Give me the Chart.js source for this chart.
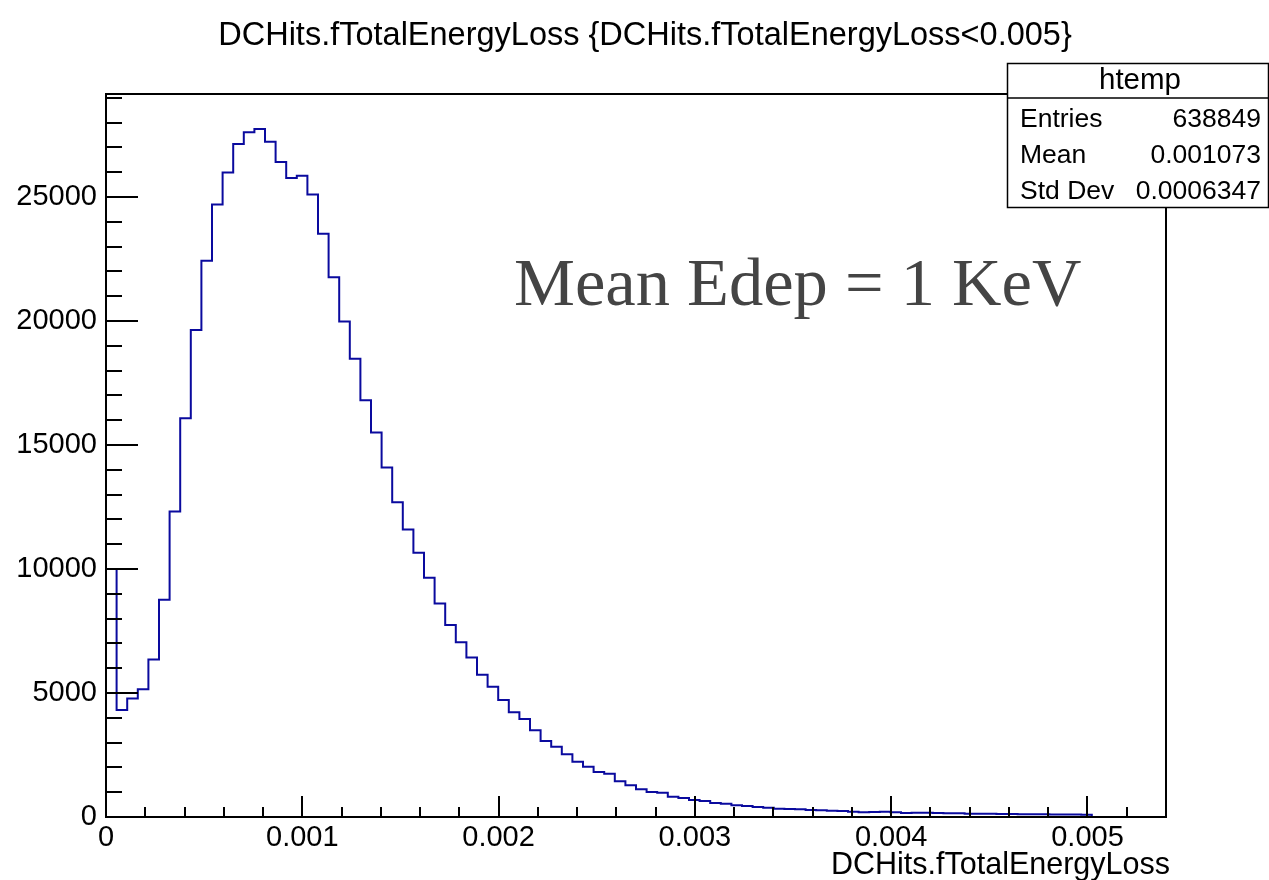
<!DOCTYPE html>
<html>
<head>
<meta charset="utf-8">
<title>DCHits.fTotalEnergyLoss</title>
<script src="https://cdn.jsdelivr.net/npm/chart.js@4.4.1/dist/chart.umd.min.js"></script>
<style>
  html, body { margin: 0; padding: 0; background: #fff; }
  canvas { display: block; }
</style>
</head>
<body>
<canvas id="histChart" width="1269" height="880"></canvas>
<script>
// Histogram definition (100 bins, 0 .. 0.0054)
const nBins = 100;
const xMin = 0;
const xMax = 0.0054;
const yMax = 29150;

// Bin contents
const binCounts = [
    10000, 4315, 4778, 5150, 6352, 8760, 12316, 16075, 19630, 22430,
    24690, 25980, 27130, 27610, 27740, 27224, 26410, 25760, 25850, 25095,
    23520, 21760, 19980, 18480, 16800, 15500, 14090, 12690, 11590, 10650,
    9650, 8610, 7740, 7050, 6435, 5735, 5250, 4715, 4220, 3950,
    3494, 3063, 2834, 2525, 2230, 2027, 1813, 1746, 1437, 1276,
    1115, 1007, 980, 819, 765, 685, 645, 564, 537, 470,
    443, 403, 376, 336, 322, 309, 282, 269, 255, 242,
    215, 188, 202, 215, 188, 161, 175, 175, 161, 148,
    148, 134, 130, 128, 122, 118, 115, 110, 108, 104,
    100, 96, 92, 0, 0, 0, 0, 0, 0, 0
];

// Axis ticks
const xTicks = [0, 0.001, 0.002, 0.003, 0.004, 0.005];
const yTicks = [0, 5000, 10000, 15000, 20000, 25000];
const xMinorStep = 0.0002;
const yMinorStep = 1000;

// Stats box
const statsTitle = 'htemp';
const statsRows = [
    ['Entries', '638849'],
    ['Mean', '0.001073'],
    ['Std Dev', '0.0006347']
];

const titleText = 'DCHits.fTotalEnergyLoss {DCHits.fTotalEnergyLoss<0.005}';
const xTitle = 'DCHits.fTotalEnergyLoss';
const noteText = 'Mean Edep = 1 KeV';

const sansFont = '"Liberation Sans", Helvetica, Arial, sans-serif';

// Step points: left edge of every bin, plus the right edge of the last one
const binWidth = (xMax - xMin) / nBins;
const points = binCounts.map((c, i) => ({ x: xMin + i * binWidth, y: c }));
points.push({ x: xMax, y: binCounts[nBins - 1] });

// Frame, inward ticks and text, ROOT style
const rootFrame = {
    id: 'rootFrame',
    afterDraw(chart) {
        const { ctx, chartArea: a, scales: { x, y } } = chart;
        ctx.save();
        ctx.strokeStyle = '#000';
        ctx.lineWidth = 2;

        // frame
        ctx.strokeRect(a.left, a.top, a.right - a.left, a.bottom - a.top);

        // x ticks
        ctx.beginPath();
        for (let v = 0; v <= xMax + 1e-12; v += xMinorStep) {
            const px = Math.round(x.getPixelForValue(v));
            const major = xTicks.some(t => Math.abs(t - v) < 1e-9);
            ctx.moveTo(px, a.bottom);
            ctx.lineTo(px, a.bottom - (major ? 21 : 10));
        }
        // y ticks
        for (let v = 0; v <= yMax; v += yMinorStep) {
            const py = Math.round(y.getPixelForValue(v));
            const major = v % 5000 === 0;
            ctx.moveTo(a.left, py);
            ctx.lineTo(a.left + (major ? 32 : 16), py);
        }
        ctx.stroke();

        // title
        ctx.fillStyle = '#000';
        ctx.font = '32.5px ' + sansFont;
        ctx.textAlign = 'center';
        ctx.textBaseline = 'alphabetic';
        ctx.fillText(titleText, 645, 45);

        // x axis title
        ctx.font = '30.5px ' + sansFont;
        ctx.textAlign = 'right';
        ctx.fillText(xTitle, 1170, 874);

        // annotation
        ctx.fillStyle = '#444';
        ctx.font = '68.5px "Liberation Serif", "DejaVu Serif", serif';
        ctx.textAlign = 'left';
        ctx.fillText(noteText, 514, 305);

        // stats box
        const bx = 1007.5, by = 63.5, bw = 261, bh = 144;
        ctx.fillStyle = '#fff';
        ctx.fillRect(bx, by, bw, bh);
        ctx.lineWidth = 1.5;
        ctx.strokeRect(bx, by, bw, bh);
        ctx.beginPath();
        ctx.moveTo(bx, 98);
        ctx.lineTo(bx + bw, 98);
        ctx.stroke();

        ctx.fillStyle = '#000';
        ctx.font = '29.5px ' + sansFont;
        ctx.textAlign = 'center';
        ctx.fillText(statsTitle, 1140, 89);
        ctx.font = '26.5px ' + sansFont;
        statsRows.forEach((row, i) => {
            const base = 127 + i * 36;
            ctx.textAlign = 'left';
            ctx.fillText(row[0], 1020, base);
            ctx.textAlign = 'right';
            ctx.fillText(row[1], 1261, base);
        });
        ctx.restore();
    }
};

const ctx = document.getElementById('histChart').getContext('2d');
const histChart = new Chart(ctx, {
    type: 'line',
    data: {
        datasets: [{
            label: 'htemp',
            data: points,
            stepped: true,
            borderColor: '#0a0a9e',
            borderWidth: 2,
            pointRadius: 0,
            fill: false
        }]
    },
    options: {
        responsive: false,
        animation: false,
        devicePixelRatio: 1,
        layout: { padding: { left: 0, top: 94, right: 103, bottom: 0 } },
        plugins: {
            legend: { display: false },
            tooltip: { enabled: false },
            title: { display: false }
        },
        scales: {
            x: {
                type: 'linear',
                min: xMin,
                max: xMax,
                grid: { display: false, drawTicks: false },
                border: { display: false },
                afterBuildTicks: scale => { scale.ticks = xTicks.map(v => ({ value: v })); },
                afterFit: scale => { scale.height = 63; },
                ticks: {
                    padding: 4,
                    maxRotation: 0,
                    color: '#000',
                    font: { family: sansFont, size: 29 },
                    callback: v => (v === 0 ? '0' : v.toFixed(3))
                }
            },
            y: {
                type: 'linear',
                min: 0,
                max: yMax,
                grid: { display: false, drawTicks: false },
                border: { display: false },
                afterBuildTicks: scale => { scale.ticks = yTicks.map(v => ({ value: v })); },
                afterFit: scale => { scale.width = 106; },
                ticks: {
                    padding: 9,
                    color: '#000',
                    font: { family: sansFont, size: 29 },
                    callback: v => String(v)
                }
            }
        }
    },
    plugins: [rootFrame]
});
</script>
</body>
</html>
